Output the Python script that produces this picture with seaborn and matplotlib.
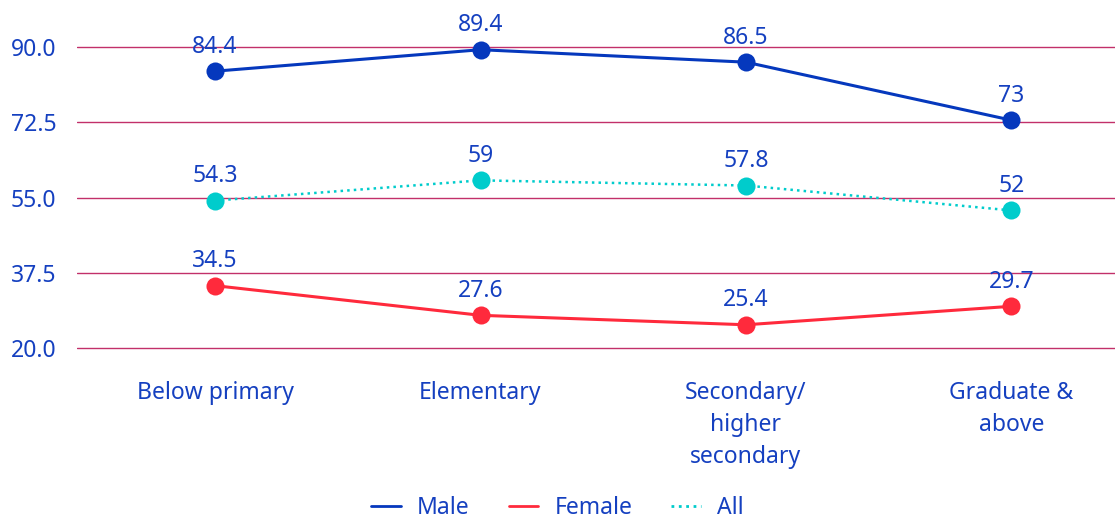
import matplotlib
matplotlib.use("Agg")
import matplotlib.pyplot as plt
import pandas as pd
import seaborn as sns

CATEGORIAS = ["Below primary", "Elementary", "Secondary/\nhigher\nsecondary", "Graduate &\nabove"]
MALE = [84.4, 89.4, 86.5, 73]
FEMALE = [34.5, 27.6, 25.4, 29.7]
ALL = [54.3, 59, 57.8, 52]
ETIQUETAS = {"Male": ["84.4", "89.4", "86.5", "73"],
             "Female": ["34.5", "27.6", "25.4", "29.7"],
             "All": ["54.3", "59", "57.8", "52"]}
YTICKS = [20.0, 37.5, 55.0, 72.5, 90.0]

COLORES = {"Male": "#0538bd", "Female": "#ff2a3c", "All": "#00cccc"}
TEXTO = "#1540c0"
FS = 16.5

sns.set_style("white")
plt.rcParams["font.family"] = ["Noto Sans", "DejaVu Sans"]

filas = []
for serie, valores in [("Male", MALE), ("Female", FEMALE), ("All", ALL)]:
    for i, v in enumerate(valores):
        filas.append({"x": i, "valor": v, "serie": serie})
df = pd.DataFrame(filas)

fig = plt.figure(figsize=(11.15, 5.18), dpi=100)
ax = fig.add_axes([77 / 1115, 1 - 350 / 518, 1 - 77 / 1115, 345 / 518])

for serie in ["Male", "Female", "All"]:
    sub = df[df["serie"] == serie]
    sns.lineplot(data=sub, x="x", y="valor", ax=ax, color=COLORES[serie],
                 linestyle=":" if serie == "All" else "-",
                 linewidth=1.8 if serie == "All" else 2.2,
                 marker="o", markersize=13, markeredgewidth=0,
                 label=serie, legend=False)
    for i, v in zip(sub["x"], sub["valor"]):
        ax.annotate(ETIQUETAS[serie][i], (i, v), xytext=(0, 9), textcoords="offset points",
                    ha="center", va="bottom", fontsize=FS, color=TEXTO)

ax.set_ylim(19.53, 99.8)
ax.set_xlim(-0.52, 3.39)
ax.set_yticks(YTICKS)
ax.set_yticklabels([f"{t:.1f}" for t in YTICKS])
ax.set_xticks(range(len(CATEGORIAS)))
ax.set_xticklabels(CATEGORIAS, linespacing=1.45)
ax.tick_params(axis="both", length=0, labelsize=FS, labelcolor=TEXTO)
ax.tick_params(axis="x", pad=22)
ax.tick_params(axis="y", pad=15)
ax.set_xlabel("")
ax.set_ylabel("")
ax.yaxis.grid(True, color="#c2306a", linewidth=1.0)
ax.set_axisbelow(True)
for s in ax.spines.values():
    s.set_visible(False)

handles = [plt.Line2D([], [], color=COLORES["Male"], linewidth=2),
           plt.Line2D([], [], color=COLORES["Female"], linewidth=2),
           plt.Line2D([], [], color=COLORES["All"], linewidth=2, linestyle=":")]
fig.legend(handles, ["Male", "Female", "All"], loc="center", bbox_to_anchor=(0.5, 10 / 518),
           ncol=3, frameon=False, fontsize=FS, labelcolor=TEXTO,
           handlelength=1.3, columnspacing=1.7, handletextpad=0.7)

plt.savefig("out.png", dpi=100)
